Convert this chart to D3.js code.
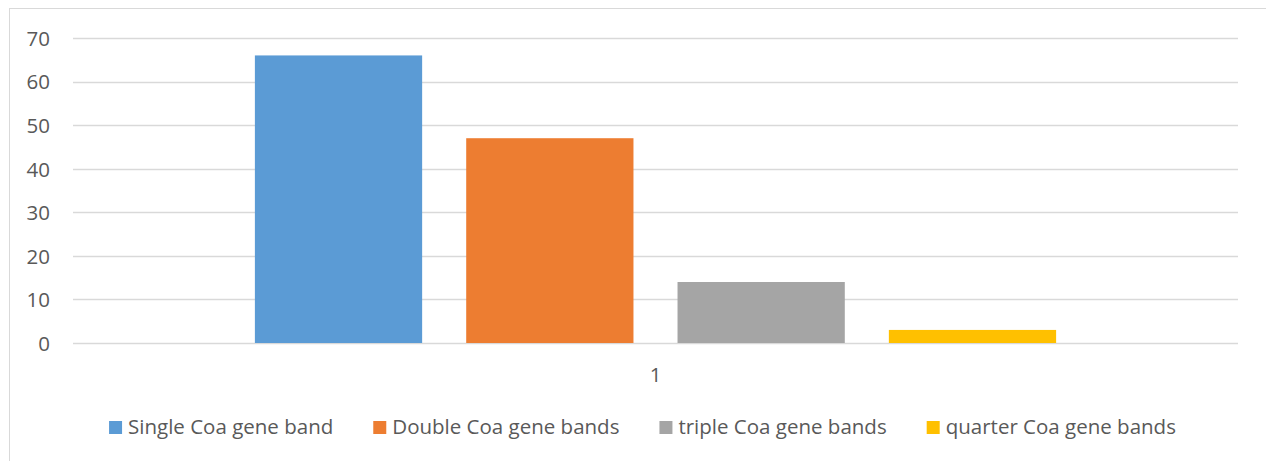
<!DOCTYPE html>
<html><head><meta charset="utf-8">
<script src="https://cdn.jsdelivr.net/npm/d3@7"></script>
<style>body{margin:0;background:#fff}</style>
</head><body>
<svg id="s" width="1266" height="461"></svg>
<script>
// ---- data ----
const categories = ["1"];
const seriesNames = ["Single Coa gene band", "Double Coa gene bands", "triple Coa gene bands", "quarter Coa gene bands"];
const seriesValues = [66, 47, 14, 3];
const yTicks = [0, 10, 20, 30, 40, 50, 60, 70];
const colors = ["#5b9bd5", "#ed7d31", "#a5a5a5", "#ffc000"];

const W = 1266, H = 461;
const font = "'Open Sans', sans-serif";
const fs = 20.5;
const txtColor = "#595959";
const svg = d3.select("#s");

// chart frame
svg.append("rect").attr("x", 9.5).attr("y", 8.5).attr("width", 1270).attr("height", 470)
  .attr("fill", "#fff").attr("stroke", "#d9d9d9").attr("stroke-width", 1);

const plot = {left: 73, right: 1238, top: 38, bottom: 343};

const y = d3.scaleLinear().domain([0, 70]).range([plot.bottom, plot.top]);
const x0 = d3.scaleBand().domain(categories).range([plot.left, plot.right]).paddingInner(0).paddingOuter(0.227);
const x1 = d3.scaleBand().domain(seriesNames).range([0, x0.bandwidth()]).paddingInner(0.2085).paddingOuter(0);

// gridlines
svg.append("g").selectAll("line").data(yTicks).join("line")
  .attr("x1", plot.left).attr("x2", plot.right)
  .attr("y1", d => Math.round(y(d)) + 0.5).attr("y2", d => Math.round(y(d)) + 0.5)
  .attr("stroke", "#d9d9d9").attr("stroke-width", 1.3);

// y axis labels via d3 axis
const yAxis = d3.axisLeft(y).tickValues(yTicks).tickSize(0).tickPadding(0).tickFormat(d3.format("d"));
const gy = svg.append("g").attr("transform", `translate(50,0)`).call(yAxis);
gy.select(".domain").remove();
gy.selectAll("text").attr("font-family", font).attr("font-size", fs).attr("fill", txtColor).attr("dy", "0.36em");

// bars
const g = svg.append("g");
categories.forEach(c => {
  g.selectAll("rect.bar").data(seriesNames.map((s, i) => ({s, v: seriesValues[i], i}))).join("rect")
    .attr("class", "bar")
    .attr("x", d => x0(c) + x1(d.s))
    .attr("width", x1.bandwidth())
    .attr("y", d => y(d.v))
    .attr("height", d => y(0) - y(d.v))
    .attr("fill", d => colors[d.i]);
});

// x axis category labels
const xAxis = d3.axisBottom(x0).tickSize(0).tickPadding(0);
const gx = svg.append("g").attr("transform", `translate(0,382)`).call(xAxis);
gx.select(".domain").remove();
gx.selectAll("text").attr("font-family", font).attr("font-size", fs).attr("fill", txtColor).attr("dy", 0);

// legend
const sq = 13, gapSqTxt = 6, gapItems = 40, legCenter = 642.5, legBase = 434;
const lg = svg.append("g");
const items = seriesNames.map((s, i) => {
  const t = lg.append("text").attr("font-family", font).attr("font-size", fs).attr("fill", txtColor).text(s);
  return {t, w: t.node().getComputedTextLength(), i};
});
const total = d3.sum(items, d => sq + gapSqTxt + d.w) + gapItems * (items.length - 1);
let cx = legCenter - total / 2;
items.forEach(d => {
  lg.append("rect").attr("x", cx).attr("y", legBase - 13).attr("width", sq).attr("height", sq).attr("fill", colors[d.i]);
  d.t.attr("x", cx + sq + gapSqTxt).attr("y", legBase);
  cx += sq + gapSqTxt + d.w + gapItems;
});
</script>
</body></html>
